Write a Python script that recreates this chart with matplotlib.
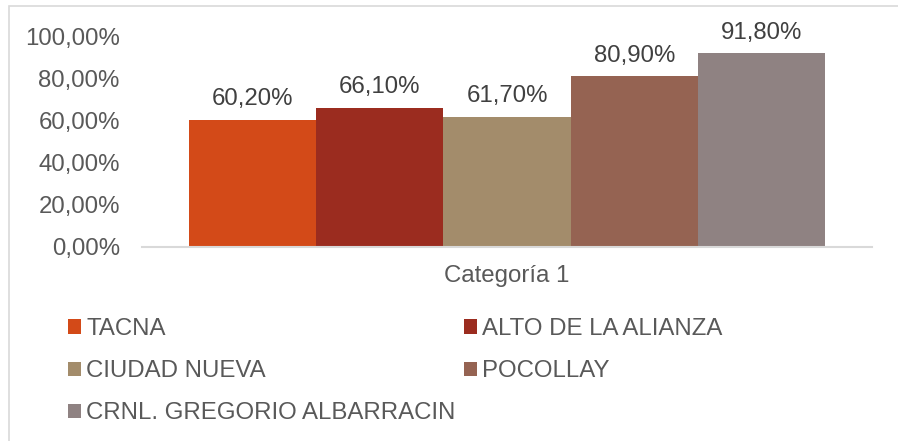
import numpy as np
import matplotlib
matplotlib.use("Agg")
import matplotlib.pyplot as plt
from matplotlib.patches import Rectangle

plt.rcParams['font.family'] = ['Liberation Sans', 'DejaVu Sans']

districts = ["TACNA", "ALTO DE LA ALIANZA", "CIUDAD NUEVA", "POCOLLAY",
             "CRNL. GREGORIO ALBARRACIN"]
values = [60.2, 66.1, 61.7, 80.9, 91.8]
colors = ["#D34A18", "#9B2C1F", "#A38C6B", "#956352", "#8F8282"]
category = "Categoría 1"
yticks = [0, 20, 40, 60, 80, 100]

FS = 17.3

fig = plt.figure(figsize=(8.98, 4.41), dpi=100)
W, H = 898, 441
ax = fig.add_axes([142 / W, 1 - 247 / H, 730 / W, (247 - 36) / H])

# chart border (left and top visible)
fig.patches.append(Rectangle((9 / W, -0.1), 1.2, 1 - 6 / H + 0.1, transform=fig.transFigure,
                             fill=False, edgecolor="#D9D9D9", linewidth=1.2))

width = 0.1743
x = (np.arange(len(values)) - 2) * width
bars = []
for xi, v, c, name in zip(x, values, colors, districts):
    b = ax.bar(xi, v, width=width, color=c, label=name)
    bars.append(b)
    ax.text(xi, v + 4.5, f"{v:.2f}".replace(".", ",") + "%", ha="center", va="bottom",
            fontsize=FS, color="#404040", clip_on=False)

ax.set_xlim(-0.5, 0.5)
ax.set_ylim(0, 100)
ax.set_yticks(yticks)
ax.set_yticklabels([f"{t:.2f}".replace(".", ",") + "%" for t in yticks])
ax.tick_params(axis="y", length=0, labelsize=FS, labelcolor="#595959", pad=16)
ax.set_xticks([0])
ax.set_xticklabels([category])
ax.tick_params(axis="x", length=0, labelsize=FS, labelcolor="#595959", pad=13)
for s in ["top", "right", "left"]:
    ax.spines[s].set_visible(False)
ax.spines["bottom"].set_color("#D9D9D9")
ax.spines["bottom"].set_linewidth(1.5)

order = [0, 2, 4, 1, 3]
leg = fig.legend([bars[i] for i in order], [districts[i] for i in order], ncol=2,
                 loc="upper left", bbox_to_anchor=(68 / W, 1 - 318 / H), frameon=False,
                 fontsize=FS, handlelength=0.53, handleheight=0.53, handletextpad=0.22,
                 columnspacing=0.35, labelspacing=0.84, borderpad=0, borderaxespad=0)
for t in leg.get_texts():
    t.set_color("#595959")

fig.savefig("out.png", dpi=100)
